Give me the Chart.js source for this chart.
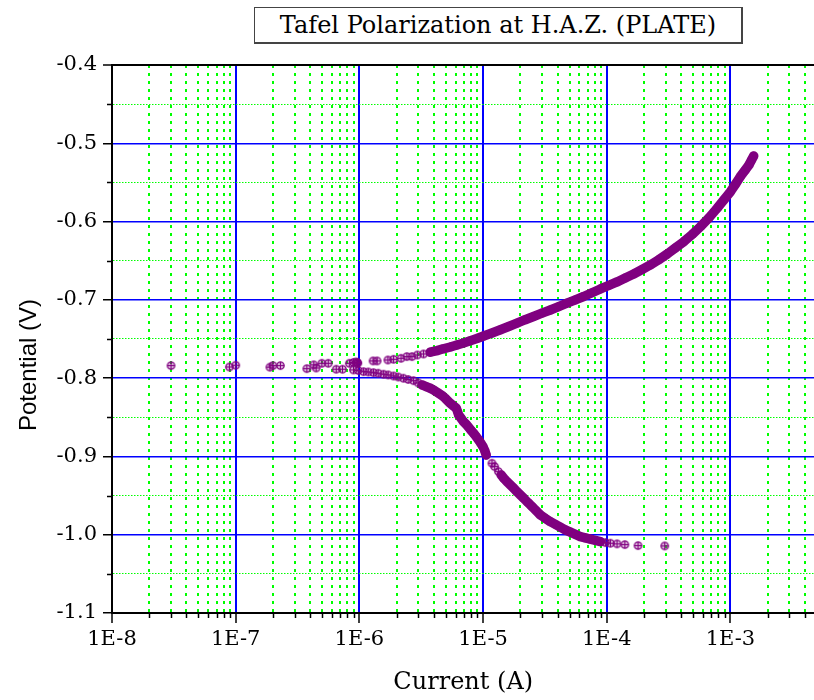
<!DOCTYPE html>
<html>
<head>
<meta charset="utf-8">
<title>Tafel Polarization</title>
<script src="https://cdn.jsdelivr.net/npm/chart.js@4/dist/chart.umd.min.js"></script>
<style>
    body { margin: 0; background: #fff; }
    #wrap { position: relative; width: 814px; height: 700px; overflow: hidden; }
    #chart { display: block; }
    #plot-title {
        position: absolute; left: 254px; top: 7px; width: 486px; height: 34px;
        border: 1px solid #444; border-right-width: 2px; border-bottom-width: 2px;
        font: 24px "DejaVu Serif", serif; line-height: 34px; text-align: center; color: #000;
        background: #fff;
    }
    #y-title {
        position: absolute; left: 28px; top: 365px; width: 200px; margin-left: -100px;
        transform: translateY(-50%) rotate(-90deg);
        font: 24px "Liberation Sans", Arial, sans-serif; text-align: center; color: #000;
        white-space: nowrap;
    }
</style>
</head>
<body>
<div id="wrap">
    <!-- canvas runs a little past the right edge; the plot is cut there -->
    <canvas id="chart" width="828" height="700"></canvas>
    <div id="plot-title">Tafel Polarization at H.A.Z. (PLATE)</div>
    <div id="y-title">Potential (V)</div>
</div>
<script>
// anodic branch (upper), current in A, potential in V
var anodicCurrent = [
    3.0e-8, 8.9e-8, 1.0e-7, 1.89e-7, 2.0e-7, 2.3e-7, 4.28e-7, 4.97e-7, 5.6e-7, 8.3e-7,
    8.96e-7, 9.4e-7, 9.66e-7, 9.7e-7, 1.29e-6, 1.39e-6, 1.70e-6, 1.89e-6, 2.17e-6, 2.42e-6,
    2.66e-6, 2.94e-6, 3.30e-6, 3.74e-6, 4.24e-6, 4.76e-6, 5.43e-6, 6.15e-6, 6.95e-6, 7.88e-6,
    8.93e-6, 1.01e-5, 1.18e-5, 1.38e-5, 1.61e-5, 1.88e-5, 2.19e-5, 2.56e-5, 2.99e-5, 3.50e-5,
    4.08e-5, 4.77e-5, 5.57e-5, 6.50e-5, 7.60e-5, 8.88e-5, 1.04e-4, 1.21e-4, 1.41e-4, 1.65e-4,
    1.93e-4, 2.25e-4, 2.63e-4, 3.08e-4, 3.59e-4, 4.19e-4, 4.90e-4, 5.72e-4, 6.68e-4, 7.80e-4,
    8.83e-4, 1.00e-3, 1.10e-3, 1.20e-3, 1.31e-3, 1.41e-3, 1.48e-3, 1.54e-3
];
var anodicPotential = [
    -0.784, -0.7857, -0.7835, -0.786, -0.784, -0.784, -0.783, -0.781, -0.781, -0.781,
    -0.780, -0.7793, -0.780, -0.781, -0.778, -0.778, -0.7768, -0.7759, -0.7746, -0.7725,
    -0.7725, -0.7704, -0.7691, -0.7669, -0.7649, -0.7625, -0.7602, -0.7576, -0.7550, -0.7522,
    -0.7493, -0.7461, -0.7423, -0.7382, -0.7340, -0.7298, -0.7254, -0.7212, -0.7170, -0.7129,
    -0.7087, -0.7043, -0.7001, -0.6957, -0.6909, -0.6861, -0.6816, -0.6771, -0.6720, -0.6669,
    -0.6612, -0.6554, -0.6488, -0.6414, -0.6337, -0.6257, -0.6165, -0.6065, -0.5954, -0.5830,
    -0.5724, -0.5618, -0.5520, -0.5427, -0.5347, -0.5277, -0.5213, -0.5162
];

// cathodic branch (lower)
var cathodicCurrent = [
    3.76e-7, 4.47e-7, 6.5e-7, 7.3e-7, 8.96e-7, 9.78e-7, 1.08e-6, 1.18e-6, 1.30e-6, 1.42e-6,
    1.57e-6, 1.71e-6, 1.89e-6, 2.06e-6, 2.27e-6, 2.48e-6, 2.74e-6, 2.99e-6, 3.21e-6, 3.47e-6,
    3.74e-6, 4.03e-6, 4.37e-6, 4.65e-6, 4.94e-6, 5.18e-6, 5.43e-6, 5.74e-6, 6.07e-6, 6.22e-6,
    6.34e-6, 6.66e-6, 6.95e-6, 7.31e-6, 7.64e-6, 8.02e-6, 8.38e-6, 8.81e-6, 9.20e-6, 9.58e-6,
    9.98e-6, 1.03e-5, 1.06e-5, 1.18e-5, 1.24e-5, 1.33e-5, 1.40e-5, 1.47e-5, 1.56e-5, 1.66e-5,
    1.77e-5, 1.88e-5, 2.00e-5, 2.13e-5, 2.30e-5, 2.49e-5, 2.69e-5, 2.90e-5, 3.19e-5, 3.50e-5,
    3.84e-5, 4.21e-5, 4.62e-5, 5.08e-5, 5.57e-5, 6.11e-5, 6.71e-5, 7.36e-5, 8.09e-5, 8.88e-5,
    9.75e-5, 1.07e-4, 1.21e-4, 1.40e-4, 1.79e-4, 2.94e-4
];
var cathodicPotential = [
    -0.7879, -0.787, -0.7886, -0.7886, -0.7895, -0.7902, -0.7917, -0.7921, -0.7930, -0.7937,
    -0.7950, -0.7959, -0.7972, -0.7985, -0.8001, -0.8017, -0.8032, -0.8061, -0.8087, -0.8109,
    -0.8129, -0.8157, -0.8193, -0.8221, -0.8257, -0.8289, -0.8321, -0.8352, -0.8384, -0.8428,
    -0.8470, -0.8515, -0.8556, -0.8591, -0.8627, -0.8668, -0.8704, -0.8748, -0.8789, -0.8831,
    -0.8875, -0.8923, -0.8981, -0.9087, -0.9130, -0.9194, -0.9236, -0.9278, -0.9322, -0.9364,
    -0.9406, -0.9450, -0.9492, -0.9534, -0.9588, -0.9641, -0.9694, -0.9747, -0.9792, -0.9833,
    -0.9868, -0.9904, -0.9939, -0.9968, -0.9996, -1.0024, -1.0041, -1.0057, -1.0073, -1.0088,
    -1.0101, -1.0109, -1.0117, -1.0126, -1.0139, -1.0143
];

// current ranges where the points crowd into a solid band
var anodicBands = [[3.7e-6, 2e-3]];
var cathodicBands = [[3.2e-6, 1.06e-5], [1.4e-5, 9.0e-5]];

var xDecades = [1e-8, 1e-7, 1e-6, 1e-5, 1e-4, 1e-3];
var xTickLabels = ["1E-8", "1E-7", "1E-6", "1E-5", "1E-4", "1E-3"];
var xMin = 1e-8, xMax = 4.78e-3;
var yMin = -1.1, yMax = -0.4, yStep = 0.05;

var purple = "#800080";
var serif = "'DejaVu Serif', serif";

function toPoints(xs, ys) {
    var pts = [];
    for (var i = 0; i < xs.length; i++) {
        pts.push({x: xs[i], y: ys[i]});
    }
    return pts;
}

function isDecade(v) {
    var l = Math.log10(v);
    return Math.abs(l - Math.round(l)) < 1e-6;
}

function isTenth(v) {
    return Math.abs(v * 10 - Math.round(v * 10)) < 1e-6;
}

function bandColor(bands) {
    return function (ctx) {
        var a = ctx.p0.parsed.x, b = ctx.p1.parsed.x;
        for (var i = 0; i < bands.length; i++) {
            if (Math.min(a, b) >= bands[i][0] && Math.max(a, b) <= bands[i][1]) {
                return purple;
            }
        }
        return "transparent";
    };
}

// circle with a cross inside
function crossCircle() {
    var c = document.createElement("canvas");
    c.width = 11;
    c.height = 11;
    var g = c.getContext("2d");
    g.strokeStyle = purple;
    g.fillStyle = "rgba(128,0,128,0.3)";
    g.lineWidth = 1.3;
    g.beginPath();
    g.arc(5.5, 5.5, 3.7, 0, 2 * Math.PI);
    g.fill();
    g.stroke();
    g.lineWidth = 1;
    g.beginPath();
    g.moveTo(1.8, 5.5);
    g.lineTo(9.2, 5.5);
    g.moveTo(5.5, 1.8);
    g.lineTo(5.5, 9.2);
    g.stroke();
    return c;
}

var marker = crossCircle();

function branch(label, xs, ys, bands) {
    return {
        label: label,
        data: toPoints(xs, ys),
        showLine: true,
        borderColor: purple,
        borderWidth: 9.5,
        borderCapStyle: "round",
        borderJoinStyle: "round",
        segment: {borderColor: bandColor(bands)},
        pointStyle: marker,
        pointRadius: 4,
        pointHoverRadius: 4
    };
}

// short ticks for the minor grid positions
var minorTicks = {
    id: "minorTicks",
    afterDraw: function (chart) {
        var ctx = chart.ctx, xs = chart.scales.x, ys = chart.scales.y;
        ctx.save();
        ctx.strokeStyle = "#000";
        ctx.lineWidth = 1.5;
        ctx.beginPath();
        xs.ticks.forEach(function (t) {
            if (isDecade(t.value)) return;
            var px = Math.round(xs.getPixelForValue(t.value)) + 0.5;
            ctx.moveTo(px, xs.top);
            ctx.lineTo(px, xs.top + 5);
        });
        ys.ticks.forEach(function (t) {
            if (isTenth(t.value)) return;
            var py = Math.round(ys.getPixelForValue(t.value)) + 0.5;
            ctx.moveTo(ys.right, py);
            ctx.lineTo(ys.right - 5, py);
        });
        ctx.stroke();
        ctx.restore();
    }
};

var config = {
    type: "scatter",
    data: {
        datasets: [
            branch("Anodic", anodicCurrent, anodicPotential, anodicBands),
            branch("Cathodic", cathodicCurrent, cathodicPotential, cathodicBands)
        ]
    },
    options: {
        responsive: false,
        animation: false,
        devicePixelRatio: 1,
        events: [],
        layout: {padding: {left: 0, right: 0, top: 65, bottom: 0}},
        plugins: {
            legend: {display: false},
            tooltip: {enabled: false},
            title: {display: false}
        },
        scales: {
            x: {
                type: "logarithmic",
                min: xMin,
                max: xMax,
                afterBuildTicks: function (scale) {
                    var ticks = [];
                    xDecades.forEach(function (d) {
                        for (var m = 1; m <= 9; m++) {
                            var v = m * d;
                            if (v <= xMax) ticks.push({value: v, major: m === 1});
                        }
                    });
                    scale.ticks = ticks;
                },
                afterFit: function (scale) {
                    scale.height = 87;
                },
                ticks: {
                    autoSkip: false,
                    maxRotation: 0,
                    minRotation: 0,
                    padding: 4,
                    color: "#000",
                    font: {family: serif, size: 21},
                    callback: function (value) {
                        var i = xDecades.findIndex(function (d) {
                            return Math.abs(d - value) / d < 1e-6;
                        });
                        return i >= 0 ? xTickLabels[i] : "";
                    }
                },
                grid: {
                    drawTicks: true,
                    tickLength: 10,
                    color: function (ctx) {
                        return ctx.tick && isDecade(ctx.tick.value) ? "#0000ff" : "#00ff00";
                    },
                    lineWidth: 2,
                    tickColor: function (ctx) {
                        return ctx.tick && isDecade(ctx.tick.value) ? "#000" : "transparent";
                    },
                    tickWidth: 1.5
                },
                border: {
                    color: "#000",
                    width: 2,
                    dash: function (ctx) {
                        return ctx.tick && !isDecade(ctx.tick.value) ? [3, 5] : [];
                    }
                },
                title: {
                    display: true,
                    text: "Current (A)",
                    color: "#000",
                    font: {family: serif, size: 24},
                    padding: {top: 0, bottom: 3}
                }
            },
            y: {
                type: "linear",
                min: yMin,
                max: yMax,
                afterFit: function (scale) {
                    scale.width = 112;
                },
                ticks: {
                    stepSize: yStep,
                    padding: 6,
                    color: "#000",
                    font: {family: serif, size: 21},
                    callback: function (value) {
                        return isTenth(value) ? value.toFixed(1) : "";
                    }
                },
                grid: {
                    drawTicks: true,
                    tickLength: 9,
                    color: function (ctx) {
                        if (!ctx.tick) return "#0000ff";
                        if (Math.abs(ctx.tick.value - yMax) < 1e-6) return "#000";
                        return isTenth(ctx.tick.value) ? "#0000ff" : "#00ff00";
                    },
                    lineWidth: function (ctx) {
                        if (!ctx.tick) return 1.5;
                        if (Math.abs(ctx.tick.value - yMax) < 1e-6) return 2;
                        return isTenth(ctx.tick.value) ? 1.5 : 1;
                    },
                    tickColor: function (ctx) {
                        return ctx.tick && isTenth(ctx.tick.value) ? "#000" : "transparent";
                    },
                    tickWidth: 1.5
                },
                border: {
                    color: "#000",
                    width: 2,
                    dash: function (ctx) {
                        return ctx.tick && !isTenth(ctx.tick.value) ? [1.5, 1.5] : [];
                    }
                },
                title: {display: false}
            }
        }
    },
    plugins: [minorTicks]
};

var chart = new Chart(document.getElementById("chart").getContext("2d"), config);
</script>
</body>
</html>
